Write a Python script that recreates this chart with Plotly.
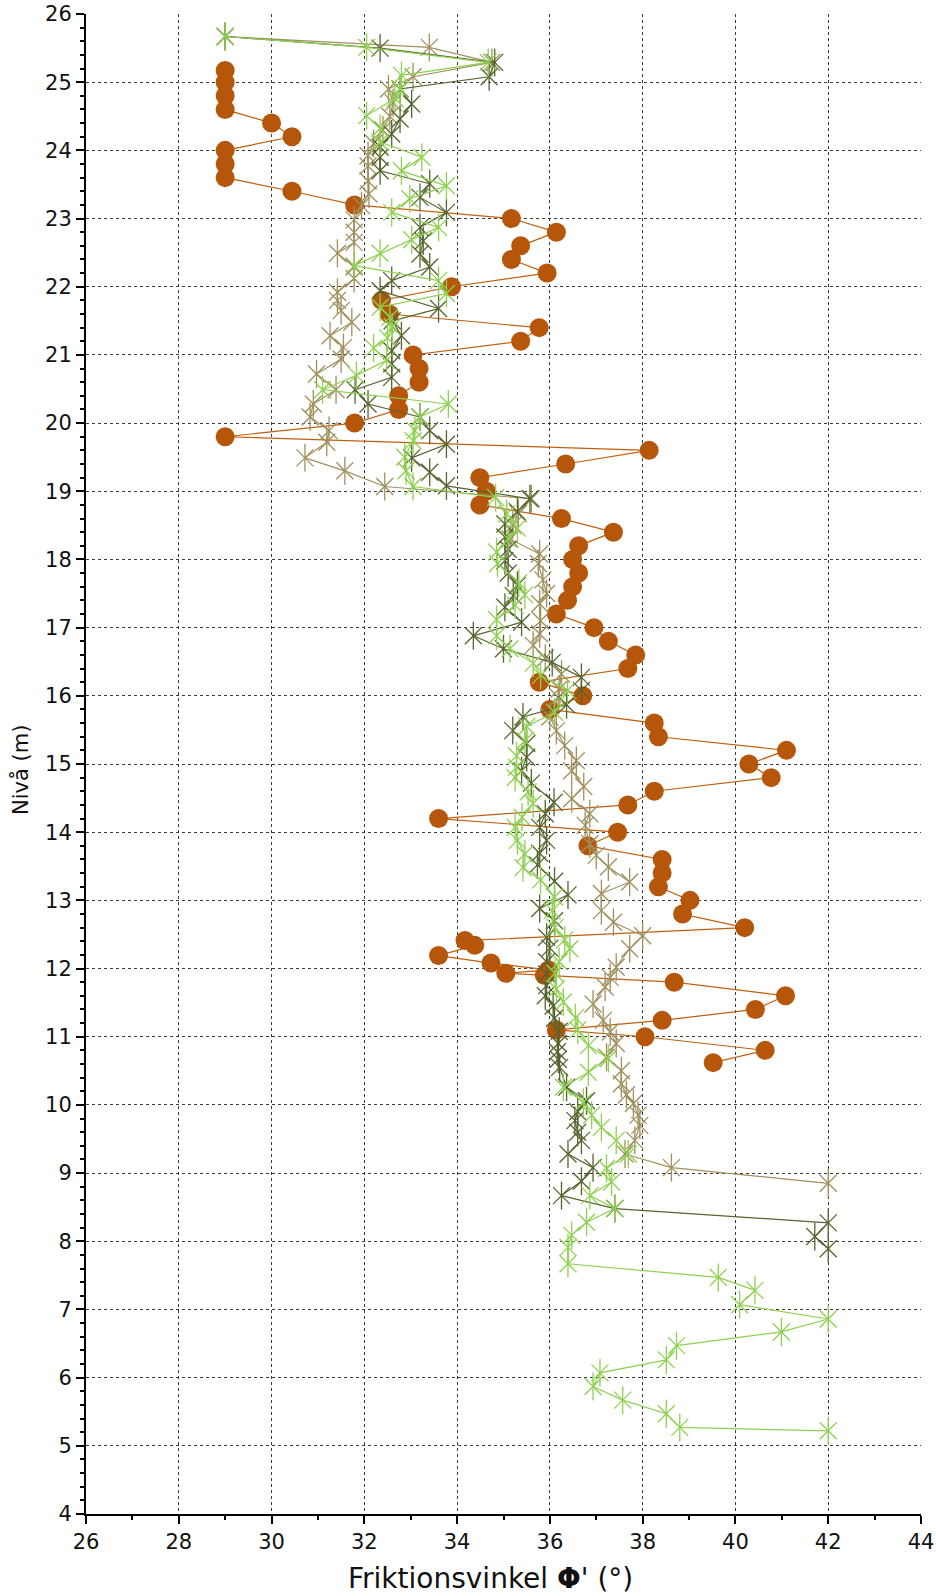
import plotly.graph_objects as go

# Friktionsvinkel (x) mot nivå (y) för fyra sonderingar

# Serie A (khaki)
niva_a = [25.67, 25.51, 25.29, 25.08, 24.9, 24.7, 24.5, 24.3, 24.1, 23.92, 23.77, 23.55,
          23.36, 23.19, 22.98, 22.8, 22.65, 22.49, 22.29, 22.12, 21.92, 21.8, 21.65, 21.48,
          21.28, 21.11, 20.94, 20.72, 20.49, 20.28, 20.09, 19.89, 19.72, 19.49, 19.3, 19.07,
          18.89, 18.67, 18.5, 18.3, 18.08, 17.94, 17.7, 17.5, 17.35, 17.1, 16.91, 16.74,
          16.55, 16.32, 16.1, 15.98, 15.69, 15.49, 15.27, 15.05, 14.9, 14.67, 14.49, 14.27,
          14.1, 13.83, 13.66, 13.49, 13.27, 13.1, 12.85, 12.68, 12.48, 12.29, 12.02, 11.87,
          11.73, 11.48, 11.24, 11.07, 10.9, 10.7, 10.5, 10.31, 10.15, 10.02, 9.85, 9.7,
          9.48, 9.28, 9.08, 8.85]
phi_a = [29.0, 33.4, 34.75, 33.05, 32.52, 32.62, 32.55, 32.4, 32.2, 32.08, 32.08, 32.08,
         32.1, 31.94, 31.78, 31.78, 31.78, 31.42, 31.78, 31.78, 31.42, 31.42, 31.5, 31.73,
         31.26, 31.55, 31.5, 30.97, 31.39, 30.9, 30.83, 31.24, 31.19, 30.72, 31.58, 32.44,
         35.6, 35.32, 35.2, 35.14, 35.78, 35.75, 35.85, 35.93, 35.78, 35.8, 35.78, 35.64,
         35.9, 36.25, 36.2, 36.18, 36.0, 36.14, 36.32, 36.57, 36.47, 36.73, 36.47, 36.86,
         36.76, 36.86, 37.0, 37.26, 37.72, 37.11, 37.11, 37.37, 38.0, 37.72, 37.43, 37.3,
         37.19, 36.93, 37.15, 37.3, 37.43, 37.22, 37.54, 37.54, 37.65, 37.8, 37.9, 37.94,
         37.83, 37.62, 38.62, 42.0]

# Serie B (mörk oliv)
niva_b = [25.67, 25.5, 25.29, 25.08, 24.9, 24.68, 24.46, 24.24, 24.05, 23.9, 23.7, 23.51,
          23.31, 23.09, 22.87, 22.67, 22.48, 22.29, 22.09, 21.94, 21.68, 21.5, 21.28, 21.06,
          20.87, 20.67, 20.49, 20.28, 20.09, 19.89, 19.69, 19.49, 19.28, 19.08, 18.89, 18.7,
          18.52, 18.33, 18.15, 17.98, 17.8, 17.62, 17.47, 17.3, 17.08, 16.88, 16.69, 16.49,
          16.27, 16.08, 15.87, 15.69, 15.49, 15.3, 15.1, 14.9, 14.72, 14.44, 14.27, 14.07,
          13.88, 13.69, 13.52, 13.28, 13.08, 12.88, 12.7, 12.46, 12.3, 12.1, 11.92, 11.75,
          11.6, 11.45, 11.27, 11.08, 10.9, 10.78, 10.67, 10.55, 10.26, 10.06, 9.9, 9.77,
          9.6, 9.48, 9.28, 9.08, 8.88, 8.67, 8.48, 8.27, 8.07, 7.89]
phi_b = [29.0, 32.34, 34.81, 34.69, 32.77, 33.02, 32.77, 32.59, 32.34, 32.34, 32.34, 33.41,
         33.2, 33.77, 33.2, 33.27, 33.2, 33.41, 32.59, 32.34, 33.6, 32.6, 32.8, 32.59,
         32.59, 32.59, 31.8, 32.08, 33.2, 33.41, 33.77, 33.02, 33.41, 33.77, 35.57, 35.3,
         35.03, 35.03, 35.1, 35.03, 35.1, 35.3, 35.21, 35.03, 35.39, 34.35, 35.0, 36.05,
         36.68, 36.68, 36.36, 35.42, 35.2, 35.5, 35.5, 35.39, 35.6, 36.09, 35.9, 35.78,
         35.93, 35.78, 35.73, 36.1, 36.39, 35.78, 36.1, 35.93, 36.0, 35.93, 35.93, 35.93,
         35.9, 36.07, 36.1, 36.2, 36.18, 36.16, 36.18, 36.21, 36.36, 36.79, 36.6, 36.54,
         36.6, 36.68, 36.39, 36.93, 36.68, 36.25, 37.4, 42.0, 41.71, 42.0]

# Serie C (ljusgrön)
niva_c = [25.67, 25.51, 25.29, 25.1, 24.9, 24.76, 24.51, 24.32, 24.12, 23.9, 23.7, 23.48,
          23.29, 23.09, 22.87, 22.69, 22.49, 22.31, 22.09, 21.9, 21.7, 21.55, 21.41, 21.25,
          21.1, 20.92, 20.7, 20.49, 20.28, 20.09, 19.89, 19.74, 19.5, 19.3, 19.07, 18.91,
          18.67, 18.46, 18.3, 18.11, 17.94, 17.66, 17.48, 17.33, 17.12, 16.88, 16.69, 16.48,
          16.3, 16.08, 15.76, 15.55, 15.34, 15.12, 14.95, 14.8, 14.59, 14.42, 14.22, 14.07,
          13.88, 13.68, 13.48, 13.3, 13.05, 12.85, 12.6, 12.42, 12.29, 12.1, 11.93, 11.7,
          11.51, 11.28, 11.1, 10.87, 10.68, 10.48, 10.26, 10.04, 9.85, 9.67, 9.48, 9.28,
          9.07, 8.87, 8.67, 8.48, 8.28, 8.09, 7.91, 7.67, 7.47, 7.28, 7.07, 6.86, 6.67,
          6.47, 6.26, 6.07, 5.87, 5.67, 5.47, 5.27, 5.22]
phi_c = [29.0, 32.05, 34.67, 32.8, 32.77, 32.66, 32.05, 32.34, 32.34, 33.24, 32.8, 33.77,
         32.98, 32.59, 33.6, 33.02, 32.34, 31.78, 33.6, 33.77, 32.34, 32.55, 32.6, 32.5,
         32.2, 32.48, 31.83, 31.1, 33.81, 33.2, 33.09, 33.05, 32.87, 32.9, 33.05, 34.83,
         35.07, 35.3, 35.1, 34.85, 34.87, 35.33, 35.46, 35.25, 34.85, 34.85, 35.14, 35.64,
         35.8, 36.38, 36.1, 35.5, 35.46, 35.28, 35.28, 35.25, 35.53, 35.64, 35.4, 35.25,
         35.3, 35.46, 35.42, 35.8, 36.1, 36.05, 36.11, 36.32, 36.43, 36.2, 36.11, 36.14,
         36.29, 36.55, 36.6, 36.83, 37.26, 36.83, 36.29, 36.72, 36.9, 37.11, 37.43, 37.69,
         37.22, 37.33, 36.86, 37.4, 36.79, 36.47, 36.39, 36.39, 39.63, 40.42, 40.09, 42.0, 40.99,
         38.73, 38.51, 37.08, 36.93, 37.57, 38.51, 38.8, 42.0]

# Serie D (orange cirklar)
niva_d = [25.17, 25.0, 24.8, 24.6, 24.4, 24.2, 24.0, 23.8, 23.6, 23.4, 23.2, 23.0, 22.8,
          22.6, 22.4, 22.2, 22.0, 21.8, 21.6, 21.4, 21.2, 21.0, 20.8, 20.6, 20.4, 20.2,
          20.0, 19.8, 19.6, 19.4, 19.2, 19.0, 18.8, 18.6, 18.4, 18.2, 18.0, 17.8, 17.6,
          17.4, 17.2, 17.0, 16.8, 16.6, 16.4, 16.2, 16.0, 15.8, 15.6, 15.4, 15.2, 15.0,
          14.8, 14.6, 14.4, 14.2, 14.0, 13.8, 13.6, 13.4, 13.2, 13.0, 12.8, 12.6, 12.41,
          12.34, 12.19, 12.08, 11.98, 11.93, 11.9, 11.8, 11.6, 11.4, 11.24, 11.1, 11.0,
          10.8, 10.62]
phi_d = [29.0, 29.0, 29.0, 29.0, 30.0, 30.44, 29.0, 29.0, 29.0, 30.44, 31.79, 35.17, 36.14,
         35.37, 35.17, 35.94, 33.88, 32.37, 32.54, 35.77, 35.37, 33.05, 33.18, 33.18, 32.74,
         32.74, 31.79, 29.0, 38.14, 36.34, 34.49, 34.63, 34.49, 36.25, 37.37, 36.62, 36.49,
         36.62, 36.49, 36.38, 36.14, 36.95, 37.26, 37.85, 37.68, 35.77, 36.71, 36.0, 38.25,
         38.34, 41.1, 40.29, 40.77, 38.25, 37.68, 33.6, 37.46, 36.82, 38.42, 38.42, 38.34,
         39.02, 38.86, 40.2, 34.17, 34.38, 33.6, 34.73, 35.97, 35.05, 35.88, 38.68, 41.08,
         40.43, 38.42, 36.14, 38.05, 40.64, 39.52]

FONT = "DejaVu Sans"
TEXT = "#111111"

fig = go.Figure()

# Orange cirklar underst
fig.add_trace(go.Scatter(
    x=phi_d, y=niva_d, mode="lines+markers",
    line=dict(color="#C0600F", width=1.2),
    marker=dict(symbol="circle", size=19, color="#B5560A", line=dict(width=0)),
    showlegend=False, hoverinfo="x+y",
))

star_series = [
    (phi_a, niva_a, "#A0905E"),
    (phi_b, niva_b, "#55652E"),
    (phi_c, niva_c, "#8ED150"),
]

# Sexuddiga stjärnor: diagonalkryss + lodrätt streck
for phi, niva, col in star_series:
    fig.add_trace(go.Scatter(
        x=phi, y=niva, mode="lines+markers",
        line=dict(color=col, width=1.2),
        marker=dict(symbol="x-thin-open", size=17, color=col, line=dict(color=col, width=1.3)),
        showlegend=False, hoverinfo="x+y",
    ))
    fig.add_trace(go.Scatter(
        x=phi, y=niva, mode="markers",
        marker=dict(symbol="line-ns-open", size=20, color=col, line=dict(color=col, width=1.3)),
        showlegend=False, hoverinfo="skip",
    ))

axis_common = dict(
    showline=True, linecolor="black", linewidth=2,
    ticks="outside", ticklen=8, tickwidth=1.5, tickcolor="black",
    showgrid=True, gridcolor="#3a3a3a", gridwidth=1, griddash="dot",
    zeroline=False, automargin=False,
    tickfont=dict(family=FONT, size=21, color=TEXT),
)

fig.update_xaxes(
    range=[26, 44], dtick=2, tick0=26,
    minor=dict(dtick=1, ticks="outside", ticklen=4, tickcolor="black", showgrid=False),
    **axis_common,
)
fig.update_yaxes(
    range=[4, 26], dtick=1, tick0=4,
    minor=dict(dtick=0.2, ticks="outside", ticklen=4, tickcolor="black", showgrid=False),
    **axis_common,
)

# Axeltitlar
fig.add_annotation(
    text="Friktionsvinkel <b>Φ</b>' (°)", xref="paper", yref="paper",
    x=0.484, y=-0.043, xanchor="center", yanchor="middle", showarrow=False,
    font=dict(family=FONT, size=28, color=TEXT),
)
fig.add_annotation(
    text="Nivå (m)", xref="paper", yref="paper",
    x=-0.079, y=0.496, xanchor="center", yanchor="middle", showarrow=False,
    textangle=-90, font=dict(family=FONT, size=21, color=TEXT),
)

fig.update_layout(
    width=936, height=1596,
    margin=dict(l=86, r=15, t=14, b=82, autoexpand=False),
    paper_bgcolor="white", plot_bgcolor="white",
    font=dict(family=FONT),
)

fig.write_html("out.html")
